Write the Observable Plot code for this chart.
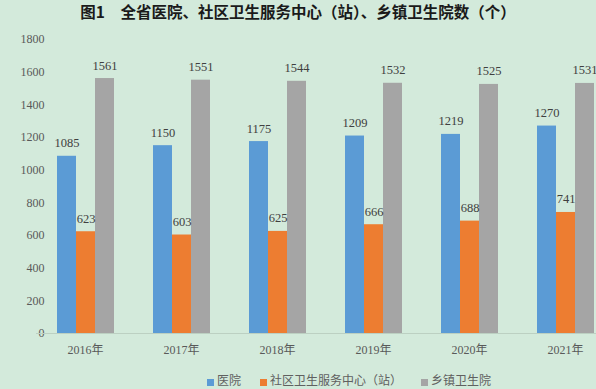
<!DOCTYPE html>
<html><head><meta charset="utf-8">
<script src="https://cdn.jsdelivr.net/npm/d3@7"></script>
<script src="https://cdn.jsdelivr.net/npm/@observablehq/plot@0.6"></script>
<style>
html,body{margin:0;padding:0;background:#d3eadb;width:596px;height:389px;overflow:hidden;}
#title{height:22px;line-height:22px;text-align:center;font-family:"Noto Sans CJK SC",sans-serif;font-weight:bold;font-size:15.5px;color:#1a1a1a;white-space:pre;}
#legend{display:flex;align-items:center;height:16px;line-height:16px;padding-top:5px;padding-left:207px;font-family:"Noto Sans CJK SC",sans-serif;font-size:12px;color:#606060;}
#legend .sw{display:inline-block;width:7px;height:7px;margin-right:3px;margin-top:4px;}
#legend .it{display:flex;align-items:center;margin-right:19px;}
</style></head>
<body>
<div id="title">图1　全省医院、社区卫生服务中心（站）、乡镇卫生院数（个）</div>
<div id="chart"></div>
<div id="legend"></div>
<script>
const years = ["2016年","2017年","2018年","2019年","2020年","2021年"];
const series = ["医院","社区卫生服务中心（站）","乡镇卫生院"];
const hospitals = [1085,1150,1175,1209,1219,1270];
const communityCenters = [623,603,625,666,688,741];
const townshipHospitals = [1561,1551,1544,1532,1525,1531];
const yTicks = [0,200,400,600,800,1000,1200,1400,1600,1800];
const colors = ["#5b9bd5","#ed7d31","#a5a5a5"];

const valuesBySeries = [hospitals, communityCenters, townshipHospitals];
const rows = [];
years.forEach((yr, i) => series.forEach((s, j) => rows.push({year: yr, series: s, value: valuesBySeries[j][i]})));

const serif = "'Liberation Serif','Noto Sans CJK SC',serif";
const chart = Plot.plot({
  width: 596, height: 345,
  marginTop: 17, marginBottom: 34, marginLeft: 37, marginRight: 0,
  style: {background: "transparent", fontFamily: serif, fontSize: "12px", color: "#595959", overflow: "visible"},
  fx: {domain: years, range: [37, 613], paddingInner: 0.4, paddingOuter: 0.2, label: null, tickSize: 0, tickPadding: 12},
  x: {domain: series, padding: 0, axis: null},
  y: {domain: [0, 1800], ticks: yTicks, tickSize: 0, tickPadding: 12, label: null, tickFormat: d => String(d)},
  color: {domain: series, range: colors},
  marks: [
    Plot.ruleY([0], {stroke: "#bcd0c2", strokeWidth: 1, insetLeft: -20, insetRight: -20}),
    Plot.barY(rows, {fx: "year", x: "series", y: "value", fill: "series"}),
    Plot.text(rows, {fx: "year", x: "series", y: "value", text: d => String(d.value), dy: -13, fill: "#404040", fontSize: 12.5, fontFamily: serif})
  ]
});
document.getElementById("chart").appendChild(chart);

const lg = document.getElementById("legend");
series.forEach((s, j) => {
  const it = document.createElement("span"); it.className = "it";
  const sw = document.createElement("span"); sw.className = "sw"; sw.style.background = colors[j];
  it.appendChild(sw); it.appendChild(document.createTextNode(s));
  lg.appendChild(it);
});
</script>
</body></html>
